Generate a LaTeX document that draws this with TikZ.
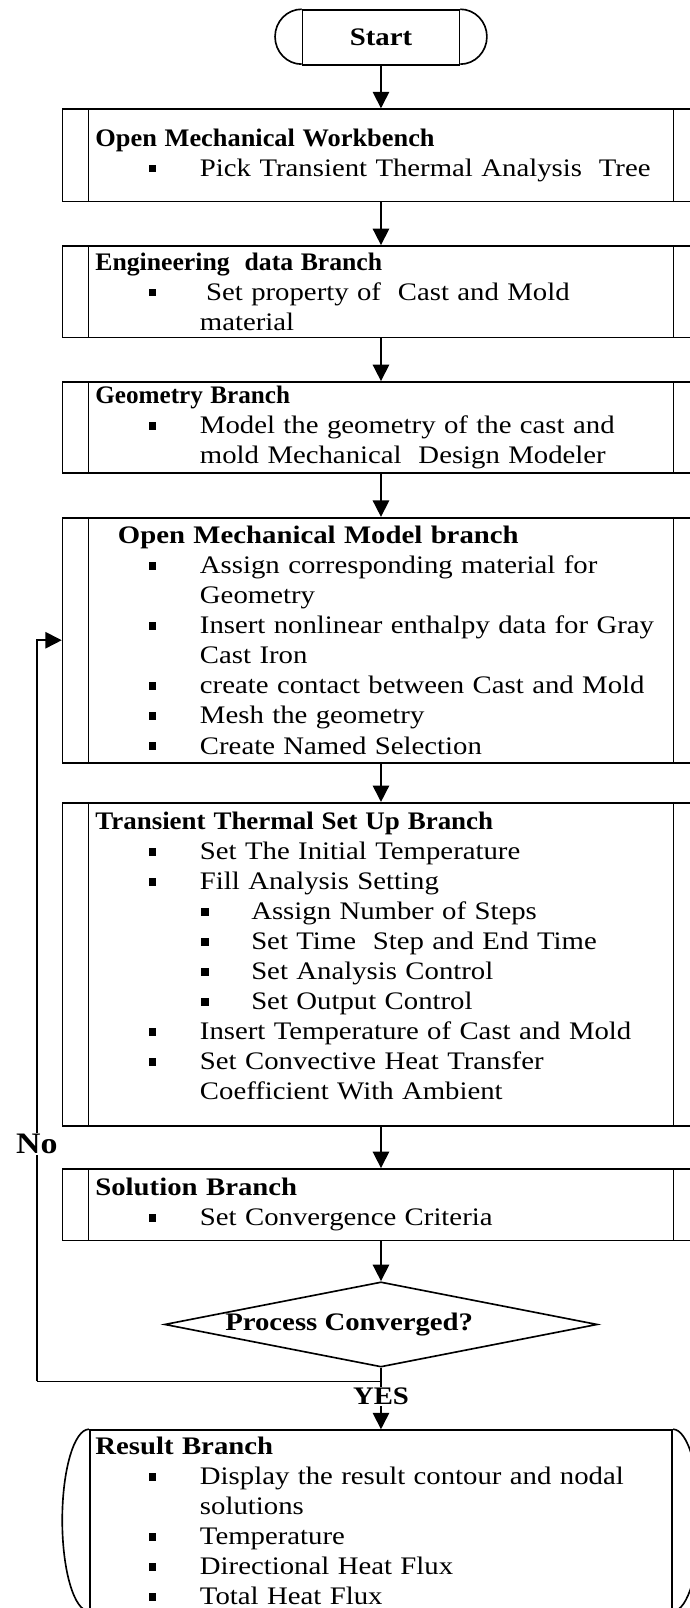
\documentclass[tikz,border=0pt]{standalone}
\usepackage{fontspec}
\setmainfont[FakeStretch=1.14]{Liberation Serif}
\usepackage{graphicx}
\usepackage{tikz}
\usetikzlibrary{arrows.meta,shapes.geometric}

\newcommand{\bul}{\hspace*{52pt}\makebox[50pt][l]{\raisebox{3.9pt}{\rule{7.5pt}{7.5pt}}}}
\newcommand{\subbul}{\hspace*{103pt}\makebox[49pt][l]{\raisebox{3.9pt}{\rule{7.5pt}{7.5pt}}}}
\newcommand{\cont}{\hspace*{102pt}}
\newcommand{\ttl}[2][1]{\scalebox{#1}[1]{\textbf{#2}}}

\begin{document}
\begin{tikzpicture}[x=1pt,y=1pt,line width=1.6pt,font=\fontsize{24.6}{29.3}\selectfont]
		\useasboundingbox (0,0) rectangle (672,-1568);
		\begin{scope}[every node/.style={draw,rectangle,align=left,anchor=north,inner ysep=4pt}]
		    \node[minimum width=153pt,minimum height=53.6pt,anchor=center] (0) at (371.5,-36.6) {\textbf{Start}};
		    \node[inner xsep=32pt,text width=557pt,minimum height=90pt] (1) at (371.5,-105.6) {\ttl[0.917]{Open Mechanical Workbench}\\
		    	\bul Pick Transient Thermal Analysis\ \ Tree};
		    \node[inner xsep=32pt,text width=557pt,minimum height=89.4pt] (2) at (371.5,-239) {\ttl[0.894]{Engineering\ \ data Branch}\\
		    	\bul\hspace*{6pt}Set property of\ \ Cast and Mold\\
		    	\cont material};
		    \node[inner xsep=32pt,text width=557pt,minimum height=89pt] (3) at (371.5,-371.6) {\ttl[0.875]{Geometry Branch}\\
		    	\bul Model the geometry of the cast and\\
		    	\cont mold Mechanical\ \ Design Modeler};
		    \node[inner xsep=32pt,text width=557pt,minimum height=239pt] (4) at (371.5,-504) {\hspace*{22pt}\ttl{Open Mechanical Model branch}\\
		    	\bul Assign corresponding material for\\
		    	\cont Geometry\\
		    	\bul Insert nonlinear enthalpy data for Gray\\
		    	\cont Cast Iron\\
		    	\bul create contact between Cast and Mold\\
		    	\bul Mesh the geometry\\
		    	\bul Create Named Selection};
		    \node[inner xsep=32pt,text width=557pt,minimum height=315pt,text depth=280pt] (5) at (371.5,-782) {\ttl[0.937]{Transient Thermal Set Up Branch}\\
		    	\bul Set The Initial Temperature\\
		    	\bul Fill Analysis Setting\\
		    	\subbul Assign Number of Steps\\
		    	\subbul Set Time\ \ Step and End Time\\
		    	\subbul Set Analysis Control\\
		    	\subbul Set Output Control\\
		    	\bul Insert Temperature of Cast and Mold\\
		    	\bul Set Convective Heat Transfer\\
		    	\cont Coefficient With Ambient};
		    \node[inner xsep=32pt,text width=557pt,minimum height=70pt] (6) at (371.5,-1139) {\ttl{Solution Branch}\\
		    	\bul Set Convergence Criteria};
		    \node[diamond,minimum width=422pt,minimum height=83pt,inner sep=0pt,anchor=center] (7) at (371.5,-1291.5) {\makebox[0pt]{\textbf{Process Converged?}\hspace*{62pt}}};
		    \node[inner xsep=5.5pt,text width=557pt,minimum height=177.3pt] (8) at (371.5,-1393.7) {\ttl{Result Branch}\\
		    	\bul Display the result contour and nodal\\
		    	\cont solutions\\
		    	\bul Temperature\\
		    	\bul Directional Heat Flux\\
		    	\bul Total Heat Flux};
		\end{scope}
		
		\draw (0.north west) arc[start angle=90,end angle=270,x radius=26pt,y radius=26.8pt];
		\draw (0.north east) arc[start angle=90,end angle=-90,x radius=26pt,y radius=26.8pt];
		\foreach \n in {1,...,6}
			\draw ([xshift=26pt]\n.north west) -- ([xshift=26pt]\n.south west)
			      ([xshift=-26pt]\n.north east) -- ([xshift=-26pt]\n.south east);
		\draw (8.north west) arc[start angle=90,end angle=270,x radius=26pt,y radius=88.65pt];
		\draw (8.north east) arc[start angle=90,end angle=-90,x radius=26pt,y radius=88.65pt];
		
		\coordinate (n) at (36,-1347);
		\begin{scope}[>={Triangle[width=16pt,length=16pt]},
		              every node/.style={fill=white,inner sep=1pt},
		              every edge/.style={draw=black}]
		    \path (0) edge[->] (1);
		    \path (1) edge[->] (2);
		    \path (2) edge[->] (3);
		    \path (3) edge[->] (4);
		    \path (4) edge[->] (5);
		    \path (5) edge[->] (6);
		    \path (6) edge[->] (7);
		    \draw (7.south) |- (n);
		    \path (7) edge[->] node[pos=0.46] {\textbf{YES}} (8);
		    \draw[->] (n) -- node[pos=0.32] {\fontsize{29}{30}\selectfont\textbf{No}} (n |- 4.west) -- (4.west);
		\end{scope}
\end{tikzpicture}
\end{document}
